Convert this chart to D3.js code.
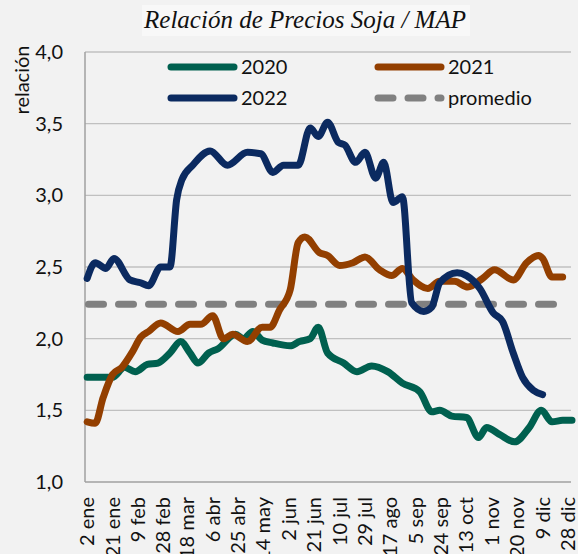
<!DOCTYPE html>
<html lang="es">
    <head>
        <meta charset="UTF-8" />
        <title>Relación de Precios Soja / MAP</title>
        <style>
            body { margin: 0; background: #f2f2f2; }
        </style>
    </head>
    <body>
        <div id="main"></div>
        <script src="https://cdn.jsdelivr.net/npm/d3@7/dist/d3.min.js"></script>
        <script>
            const svgWidth = 578
            const svgHeight = 554
            const fontFamily = "Lato, 'Open Sans', sans-serif"
            const fontSize = 20

            // tick labels (day of year, label)
            const tickDays = [2, 21, 40, 59, 77, 96, 115, 134, 153, 172, 191, 210, 229, 248, 267, 286, 305, 324, 343, 362]
            const tickLabels = ["2 ene", "21 ene", "9 feb", "28 feb", "18 mar", "6 abr", "25 abr", "14 may", "2 jun", "21 jun",
                "10 jul", "29 jul", "17 ago", "5 sep", "24 sep", "13 oct", "1 nov", "20 nov", "9 dic", "28 dic"]
            const yTicks = [1.0, 1.5, 2.0, 2.5, 3.0, 3.5, 4.0]

            // [day of year, relación]
            const serie2020 = [
                [2, 1.73], [21, 1.73], [30, 1.80], [38, 1.77], [47, 1.82], [55, 1.83], [64, 1.90], [72, 1.98],
                [79, 1.90], [85, 1.83], [93, 1.90], [100, 1.93], [113, 2.03], [119, 2.00], [126, 2.05], [133, 1.99],
                [141, 1.97], [154, 1.95], [161, 1.98], [169, 2.00], [175, 2.08], [182, 1.90], [194, 1.83], [204, 1.77],
                [215, 1.81], [227, 1.77], [238, 1.69], [251, 1.63], [260, 1.49], [266, 1.50], [275, 1.46], [286, 1.45],
                [295, 1.31], [301, 1.38], [311, 1.33], [322, 1.28], [333, 1.38], [342, 1.50], [350, 1.42], [358, 1.43],
                [365, 1.43]
            ]
            const serie2021 = [
                [2, 1.42], [8, 1.41], [14, 1.59], [21, 1.75], [28, 1.80], [36, 1.91], [42, 2.01], [48, 2.05],
                [57, 2.11], [70, 2.05], [79, 2.10], [87, 2.10], [96, 2.16], [104, 2.00], [111, 2.03], [122, 1.98],
                [133, 2.08], [139, 2.08], [146, 2.20], [154, 2.34], [160, 2.67], [165, 2.71], [176, 2.60], [182, 2.58],
                [191, 2.51], [201, 2.53], [210, 2.57], [221, 2.48], [230, 2.44], [238, 2.49], [246, 2.41], [257, 2.35],
                [266, 2.40], [277, 2.40], [287, 2.36], [298, 2.42], [307, 2.48], [321, 2.41], [331, 2.53], [340, 2.58],
                [343, 2.56], [350, 2.43], [358, 2.43]
            ]
            const serie2022 = [
                [2, 2.42], [8, 2.53], [16, 2.49], [22, 2.56], [34, 2.41], [42, 2.39], [48, 2.37], [57, 2.50],
                [64, 2.50], [69, 2.97], [73, 3.11], [81, 3.21], [94, 3.31], [107, 3.21], [122, 3.30], [132, 3.29],
                [141, 3.16], [149, 3.21], [160, 3.21], [169, 3.47], [175, 3.41], [182, 3.51], [190, 3.37], [195, 3.35],
                [203, 3.23], [210, 3.30], [218, 3.12], [224, 3.23], [231, 2.95], [238, 2.99], [245, 2.25], [254, 2.19],
                [260, 2.22], [266, 2.39], [279, 2.46], [286, 2.44], [296, 2.35], [306, 2.18], [313, 2.12], [321, 1.90],
                [328, 1.73], [336, 1.64], [343, 1.61]
            ]
            const promedio = 2.24

            const series = [
                { name: "2020", color: "#00604f", data: serie2020 },
                { name: "2021", color: "#933f00", data: serie2021 },
                { name: "2022", color: "#0b2a60", data: serie2022 }
            ]

            const plotLeft = 85
            const plotRight = 571
            const plotTop = 52
            const plotBottom = 482

            const x = d3.scaleLinear().domain([0, 365]).range([84.5, 572])
            const y = d3.scaleLinear().domain([1, 4]).range([plotBottom, plotTop])
            const fmt = (d) => d3.format(".1f")(d).replace(".", ",")

            const svg = d3.select("#main")
                .append("svg")
                .attr("width", svgWidth)
                .attr("height", svgHeight)
                .style("display", "block")

            svg.append("rect")
                .attr("width", svgWidth)
                .attr("height", svgHeight)
                .attr("fill", "#f2f2f2")

            // title
            svg.append("rect")
                .attr("x", 142)
                .attr("y", 5)
                .attr("width", 328)
                .attr("height", 31)
                .attr("fill", "#f8f8f8")
            svg.append("text")
                .attr("x", 305)
                .attr("y", 28)
                .attr("text-anchor", "middle")
                .attr("font-family", "'Liberation Serif', serif")
                .attr("font-style", "italic")
                .attr("font-size", 25)
                .attr("fill", "#111")
                .text("Relación de Precios Soja / MAP")

            // gridlines
            svg.append("g")
                .selectAll("line")
                .data(yTicks.slice(1))
                .enter()
                .append("line")
                .attr("x1", plotLeft)
                .attr("x2", plotRight)
                .attr("y1", (d) => y(d))
                .attr("y2", (d) => y(d))
                .attr("stroke", "#c0c0c0")
                .attr("stroke-width", 1.3)

            // axes lines
            svg.append("line")
                .attr("x1", plotLeft).attr("x2", plotRight)
                .attr("y1", plotBottom).attr("y2", plotBottom)
                .attr("stroke", "#a0a0a0").attr("stroke-width", 1.5)
            svg.append("line")
                .attr("x1", plotLeft).attr("x2", plotLeft)
                .attr("y1", plotTop).attr("y2", plotBottom)
                .attr("stroke", "#a0a0a0").attr("stroke-width", 1.5)

            // y tick labels
            svg.append("g")
                .selectAll("text")
                .data(yTicks)
                .enter()
                .append("text")
                .attr("x", 63)
                .attr("y", (d) => y(d))
                .attr("dy", "0.35em")
                .attr("text-anchor", "end")
                .attr("font-family", fontFamily)
                .attr("font-size", fontSize)
                .attr("fill", "#111")
                .text(fmt)

            svg.append("text")
                .attr("transform", "translate(22, 80) rotate(-90)")
                .attr("dy", "0.35em")
                .attr("text-anchor", "middle")
                .attr("font-family", fontFamily)
                .attr("font-size", fontSize)
                .attr("fill", "#111")
                .text("relación")

            // x tick labels
            svg.append("g")
                .selectAll("text")
                .data(tickDays)
                .enter()
                .append("text")
                .attr("transform", (d) => `translate(${x(d)}, 497) rotate(-90)`)
                .attr("dy", "0.35em")
                .attr("text-anchor", "end")
                .attr("font-family", fontFamily)
                .attr("font-size", fontSize)
                .attr("fill", "#111")
                .text((d, i) => tickLabels[i])

            // promedio
            svg.append("line")
                .attr("x1", x(3))
                .attr("x2", x(362))
                .attr("y1", y(promedio))
                .attr("y2", y(promedio))
                .attr("stroke", "#808080")
                .attr("stroke-width", 7)
                .attr("stroke-linecap", "round")
                .attr("stroke-dasharray", "15 15")

            const line = d3.line()
                .x((d) => x(d[0]))
                .y((d) => y(d[1]))
                .curve(d3.curveMonotoneX)

            svg.append("g")
                .selectAll("path")
                .data(series)
                .enter()
                .append("path")
                .attr("d", (d) => line(d.data))
                .attr("fill", "none")
                .attr("stroke", (d) => d.color)
                .attr("stroke-width", 7)
                .attr("stroke-linecap", "round")
                .attr("stroke-linejoin", "round")

            // legend
            const legend = [
                { name: "2020", color: "#00604f", x: 171, y: 67, dash: null },
                { name: "2021", color: "#933f00", x: 378, y: 67, dash: null },
                { name: "2022", color: "#0b2a60", x: 171, y: 98, dash: null },
                { name: "promedio", color: "#808080", x: 378, y: 98, dash: "15 15" }
            ]
            const lg = svg.append("g")
            lg.selectAll("line")
                .data(legend)
                .enter()
                .append("line")
                .attr("x1", (d) => d.x)
                .attr("x2", (d) => d.x + 63)
                .attr("y1", (d) => d.y)
                .attr("y2", (d) => d.y)
                .attr("stroke", (d) => d.color)
                .attr("stroke-width", 7)
                .attr("stroke-linecap", "round")
                .attr("stroke-dasharray", (d) => d.dash)
            lg.selectAll("text")
                .data(legend)
                .enter()
                .append("text")
                .attr("x", (d) => d.x + 70)
                .attr("y", (d) => d.y)
                .attr("dy", "0.35em")
                .attr("font-family", fontFamily)
                .attr("font-size", fontSize)
                .attr("fill", "#111")
                .text((d) => d.name)
        </script>
    </body>
</html>
